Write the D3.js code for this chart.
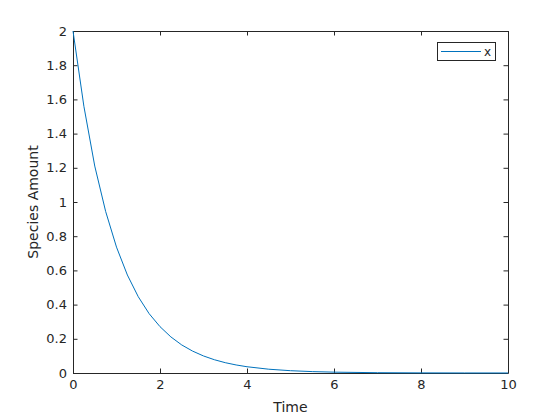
<!DOCTYPE html>
<html>
<head>
<meta charset="utf-8">
<script src="https://cdn.jsdelivr.net/npm/d3@7"></script>
<style>
body { margin: 0; background: #fff; }
text { font-family: "DejaVu Sans", sans-serif; fill: #262626; }
</style>
</head>
<body>
<script>
const width = 560;
const height = 420;

// values
const time = [0, 0.25, 0.5, 0.75, 1, 1.25, 1.5, 1.75, 2, 2.25, 2.5, 2.75, 3, 3.25, 3.5, 3.75, 4, 4.5, 5, 5.5, 6, 7, 8, 9, 10];
const amount = [2.0, 1.56, 1.21, 0.945, 0.736, 0.573, 0.446, 0.347, 0.271, 0.211, 0.164, 0.128, 0.0996, 0.0776, 0.0604, 0.047, 0.0366, 0.0222, 0.0135, 0.0082, 0.005, 0.0018, 0.0007, 0.0002, 0.0001];
const xTicks = [0, 2, 4, 6, 8, 10];
const yTicks = [0, 0.2, 0.4, 0.6, 0.8, 1, 1.2, 1.4, 1.6, 1.8, 2];
const seriesName = "x";

const mLeft = 73, mRight = 508, mTop = 31, mBottom = 373;
const tickLen = 4.5;

const svg = d3.select("body").append("svg")
    .attr("width", width)
    .attr("height", height);

const x = d3.scaleLinear().domain([0, 10]).range([mLeft, mRight]);
const y = d3.scaleLinear().domain([0, 2]).range([mBottom, mTop]);

// bottom axis
svg.append("g")
    .attr("transform", "translate(0," + mBottom + ")")
    .call(d3.axisBottom(x).tickValues(xTicks).tickSizeInner(-tickLen).tickSizeOuter(0).tickPadding(7).tickFormat(d3.format("")))
    .call(g => g.selectAll("text").style("font-size", "13px"));

// left axis
svg.append("g")
    .attr("transform", "translate(" + mLeft + ",0)")
    .call(d3.axisLeft(y).tickValues(yTicks).tickSizeInner(-tickLen).tickSizeOuter(0).tickPadding(6).tickFormat(d3.format("")))
    .call(g => g.selectAll("text").style("font-size", "13px"));

// top and right axes (ticks only)
svg.append("g")
    .attr("transform", "translate(0," + mTop + ")")
    .call(d3.axisTop(x).tickValues(xTicks).tickSizeInner(-tickLen).tickSizeOuter(0).tickFormat(""));
svg.append("g")
    .attr("transform", "translate(" + mRight + ",0)")
    .call(d3.axisRight(y).tickValues(yTicks).tickSizeInner(-tickLen).tickSizeOuter(0).tickFormat(""));

svg.selectAll(".domain, .tick line").attr("stroke", "#262626");
svg.selectAll("g text").style("fill", "#262626");

// curve
const line = d3.line()
    .x((d, i) => x(time[i]))
    .y(d => y(d));

svg.append("path")
    .datum(amount)
    .attr("fill", "none")
    .attr("stroke", "#0072BD")
    .attr("stroke-width", 1)
    .attr("d", line);

// labels
svg.append("text")
    .attr("x", (mLeft + mRight) / 2)
    .attr("y", 412)
    .attr("text-anchor", "middle")
    .style("font-size", "14px")
    .text("Time");

svg.append("text")
    .attr("transform", "translate(38," + ((mTop + mBottom) / 2) + ") rotate(-90)")
    .attr("text-anchor", "middle")
    .style("font-size", "14px")
    .text("Species Amount");

// legend
const lg = svg.append("g");
lg.append("rect")
    .attr("x", 437.5).attr("y", 42.5)
    .attr("width", 58).attr("height", 18)
    .attr("fill", "#fff").attr("stroke", "#262626");
lg.append("line")
    .attr("x1", 441).attr("x2", 481)
    .attr("y1", 51.5).attr("y2", 51.5)
    .attr("stroke", "#0072BD");
lg.append("text")
    .attr("x", 484).attr("y", 56)
    .style("font-size", "12px")
    .text(seriesName);
</script>
</body>
</html>
